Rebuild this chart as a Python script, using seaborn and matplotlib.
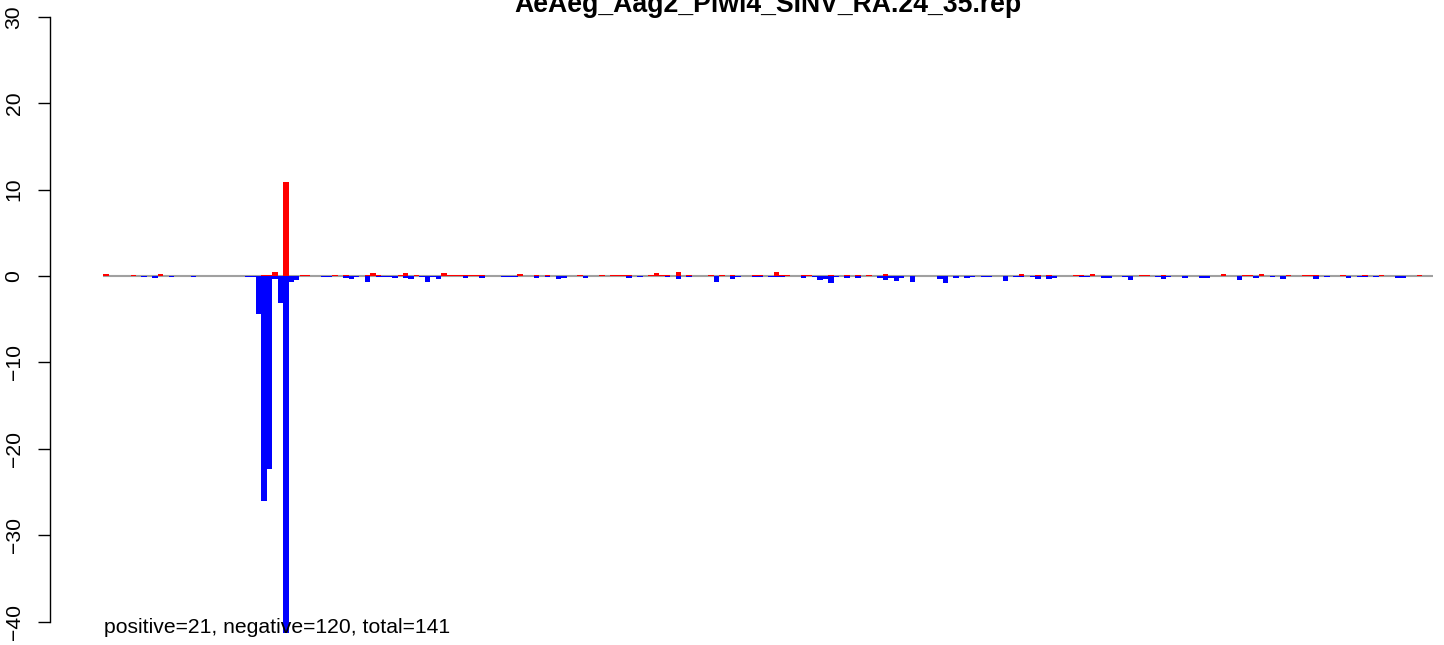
import numpy as np
import pandas as pd
import matplotlib
matplotlib.use('Agg')
import matplotlib.pyplot as plt
import seaborn as sns

# bins along the genome (R-style barplot, space=0)
N_BINS = 244
TITLE = "AeAeg_Aag2_Piwi4_SINV_RA.24_35.rep"
NOTE = "positive=21, negative=120, total=141"

# positive strand (red) - bin index / value
pos_bins = [0, 5, 10, 29, 30, 31, 33, 36, 37, 42, 44, 48, 49, 50, 54, 55, 57, 62,
            63, 64, 65, 66, 67, 68, 69, 76, 79, 81, 87, 91, 93, 94, 95, 96,
            100, 101, 102, 103, 105, 107, 111, 113, 115, 119, 120, 123, 124, 125,
            128, 129, 133, 136, 138, 140, 143, 168, 171, 173, 178, 179, 181,
            190, 191, 194, 205, 209, 210, 212, 217, 220, 221, 222, 227, 231, 234, 241]
pos_vals = [0.2, 0.17, 0.2, 0.17, 0.17, 0.46, 10.85, 0.17, 0.17, 0.17, 0.17, 0.12, 0.32, 0.17, 0.17, 0.32, 0.17, 0.32,
            0.17, 0.17, 0.17, 0.17, 0.17, 0.17, 0.17, 0.22, 0.17, 0.17, 0.17, 0.17, 0.17, 0.17, 0.17, 0.17,
            0.17, 0.32, 0.17, 0.17, 0.42, 0.17, 0.17, 0.17, 0.17, 0.17, 0.17, 0.47, 0.17, 0.17,
            0.17, 0.17, 0.17, 0.17, 0.17, 0.17, 0.27, 0.22, 0.17, 0.17, 0.17, 0.17, 0.22,
            0.17, 0.17, 0.17, 0.22, 0.17, 0.17, 0.22, 0.17, 0.17, 0.17, 0.17, 0.17, 0.17, 0.17, 0.17]

# negative strand (blue)
neg_bins = [7, 9, 12, 16, 26, 27, 28, 29, 30, 31, 32, 33, 34, 35, 40, 41, 44, 45, 46, 48,
            50, 51, 52, 53, 55, 56, 58, 59, 60, 61, 66, 69, 73, 74, 75, 79, 81, 83, 84, 88,
            96, 98, 103, 105, 107, 112, 115, 116, 119, 120, 122, 123, 124, 128, 130, 131, 132, 133,
            134, 136, 138, 142, 143, 144, 145, 146, 148, 153, 154, 156, 158, 159, 161, 162, 165,
            167, 168, 170, 171, 173, 174, 179, 180, 183, 184, 187, 188, 193, 194, 195, 198,
            201, 202, 208, 211, 214, 216, 222, 224, 228, 230, 231, 233, 237, 238]
neg_vals = [-0.15, -0.27, -0.15, -0.15, -0.15, -0.15, -4.4, -26.0, -22.3, -0.3, -3.1, -41.35, -0.7, -0.43, -0.12, -0.12, -0.22, -0.37, -0.12, -0.7,
            -0.12, -0.12, -0.12, -0.22, -0.22, -0.37, -0.15, -0.7, -0.15, -0.37, -0.22, -0.22, -0.12, -0.12, -0.12, -0.22, -0.12, -0.37, -0.22, -0.22,
            -0.22, -0.12, -0.12, -0.37, -0.12, -0.7, -0.37, -0.12, -0.12, -0.12, -0.12, -0.12, -0.12, -0.22, -0.12, -0.47, -0.32, -0.8,
            -0.12, -0.22, -0.22, -0.22, -0.52, -0.22, -0.57, -0.22, -0.7, -0.37, -0.8, -0.22, -0.22, -0.12, -0.12, -0.12, -0.57,
            -0.12, -0.12, -0.12, -0.37, -0.37, -0.22, -0.12, -0.12, -0.22, -0.22, -0.12, -0.47, -0.12, -0.37, -0.15, -0.22,
            -0.18, -0.18, -0.47, -0.22, -0.12, -0.37, -0.37, -0.12, -0.22, -0.12, -0.12, -0.12, -0.22, -0.22]

y_ticks = [-40, -30, -20, -10, 0, 10, 20, 30]

pos_full = np.zeros(N_BINS)
pos_full[pos_bins] = pos_vals
neg_full = np.zeros(N_BINS)
neg_full[neg_bins] = neg_vals
df = pd.DataFrame({"bin": np.arange(N_BINS) + 0.5, "pos": pos_full, "neg": neg_full})

sns.set_theme(style="white")
plt.rcParams['font.family'] = ['Liberation Sans', 'DejaVu Sans']
plt.rcParams['text.color'] = 'black'
plt.rcParams['ytick.color'] = 'black'
plt.rcParams['axes.edgecolor'] = 'black'

W, H = 1444, 645
fig = plt.figure(figsize=(W / 100, H / 100), dpi=100)
# plot region runs past the right edge (the reference is a crop)
ax = fig.add_axes([50 / W, 0, 1436 / W, 1])
ax.patch.set_alpha(0)

x0, bw = 103.3, 5.45      # pixel of bin 0, pixel per bin
y0, sy = 276.0, 8.64      # pixel of y=0, pixel per unit

ax.hlines(0, 0, N_BINS, color='#a0a0a0', lw=1.5, zorder=0.5)
sns.barplot(data=df, x="bin", y="pos", native_scale=True, width=1.0, color="#FF0000",
            saturation=1, errorbar=None, linewidth=0, ax=ax)
sns.barplot(data=df, x="bin", y="neg", native_scale=True, width=1.0, color="#0000FF",
            saturation=1, errorbar=None, linewidth=0, ax=ax)

ax.set_xlim((50 - x0) / bw, (50 + 1436 - x0) / bw)
ax.set_ylim(-(H - y0) / sy, y0 / sy)
ax.set_xlabel('')
ax.set_ylabel('')
ax.set_xticks([])
ax.set_yticks(y_ticks)
ax.set_yticklabels([str(t).replace('-', '\u2212') for t in y_ticks], rotation=90, va='center',
                   fontsize=15.2, color='black')
ax.tick_params(axis='y', length=9, width=1.0, pad=10, left=True, color='black')
for s in ['top', 'right', 'bottom']:
    ax.spines[s].set_visible(False)
ax.spines['left'].set_bounds(-40, 30)
ax.spines['left'].set_linewidth(1.0)
ax.spines['left'].set_color('black')

fig.text(768 / W, 1 - 12 / H, TITLE, ha='center', va='baseline', fontsize=19.2,
         fontweight='bold', color='black')
fig.text(104 / W, 1 - 633 / H, NOTE, ha='left', va='baseline', fontsize=15.2, color='black')

fig.savefig("out.png", dpi=100)
